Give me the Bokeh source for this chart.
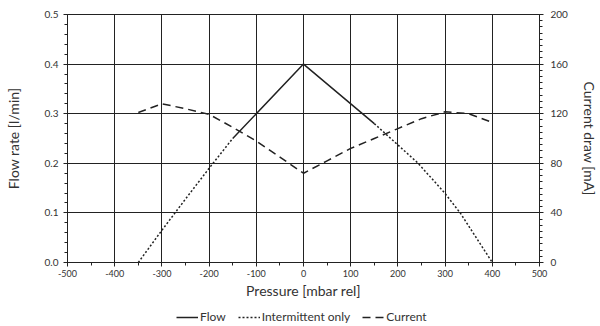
from bokeh.plotting import figure
from bokeh.layouts import column
from bokeh.models import Range1d, LinearAxis, SingleIntervalTicker, Legend, LegendItem, CustomJSTickFormatter
from bokeh.embed import file_html
from bokeh.resources import INLINE

# Flow (solid, continuous region)
flow_x = [-150, 0, 150]
flow_y = [0.25, 0.40, 0.28]
# Intermittent only (dotted)
int_left_x = [-350, -300, -250, -200, -150]
int_left_y = [0.0, 0.065, 0.128, 0.19, 0.25]
int_right_x = [150, 200, 243, 300, 332, 400]
int_right_y = [0.28, 0.237, 0.20, 0.139, 0.10, 0.0]
# Current draw (dashed, mA)
cur_x = [-350, -300, -250, -200, -150, -100, -50, 0, 50, 100, 150, 200, 250, 300, 350, 400]
cur_y = [121, 128, 124, 119.5, 109, 98, 85, 72, 82, 92, 100, 108, 116, 121.5, 120, 113]

FONT = "Lato"
DARK = "#222222"
TXT = "#333333"
SOLID = dict(line_color=DARK, line_width=1.5)
DOTTED = dict(line_color=DARK, line_width=1.5, line_dash="2 2")
DASHED = dict(line_color=DARK, line_width=1.5, line_dash="8 5")

p = figure(width=600, height=306, output_backend="svg", toolbar_location=None,
           x_range=Range1d(-500, 500), y_range=Range1d(0, 0.5),
           min_border_left=67, min_border_right=60, min_border_top=14, min_border_bottom=44)
p.extra_y_ranges = {"cur": Range1d(0, 200)}

p.outline_line_color = DARK
p.outline_line_width = 1

p.line(flow_x, flow_y, **SOLID)
p.line(int_left_x, int_left_y, **DOTTED)
p.line(int_right_x, int_right_y, **DOTTED)
p.line(cur_x, cur_y, y_range_name="cur", **DASHED)

xax = p.xaxis[0]
yax = p.yaxis[0]
xax.ticker = SingleIntervalTicker(interval=100, num_minor_ticks=2)
xax.formatter = CustomJSTickFormatter(code="return String(Math.round(tick));")
yax.ticker = SingleIntervalTicker(interval=0.1, num_minor_ticks=5)
yax.formatter = CustomJSTickFormatter(code="return tick.toFixed(1);")
xax.axis_label = "Pressure [mbar rel]"
yax.axis_label = "Flow rate [l/min]"

right = LinearAxis(y_range_name="cur", ticker=SingleIntervalTicker(interval=40, num_minor_ticks=8),
                   axis_label="Current draw [mA]")
p.add_layout(right, "right")

for ax in [xax, yax, right]:
    ax.axis_line_color = DARK
    ax.major_tick_line_color = DARK
    ax.minor_tick_line_color = DARK
    ax.major_tick_in = 0
    ax.major_tick_out = 4
    ax.minor_tick_in = 0
    ax.minor_tick_out = 3
    ax.major_label_text_font = FONT
    ax.axis_label_text_font = FONT
    ax.major_label_text_color = TXT
    ax.axis_label_text_color = TXT
    ax.axis_label_text_font_style = "normal"
    ax.axis_label_text_font_size = "14px"
    ax.major_label_text_font_size = "10px"

xax.major_label_text_font_size = "9px"
xax.major_label_standoff = 3
xax.axis_label_standoff = 2
yax.major_label_standoff = 5
yax.axis_label_standoff = 20
right.major_label_standoff = 7
right.axis_label_standoff = 10

p.xgrid.grid_line_color = DARK
p.ygrid.grid_line_color = DARK
p.xgrid.grid_line_width = 1
p.ygrid.grid_line_width = 1
p.xgrid.ticker = SingleIntervalTicker(interval=100)
p.ygrid.ticker = SingleIntervalTicker(interval=0.1)

# legend strip below the chart (its lines lie outside its visible ranges)
lg = figure(width=600, height=20, output_backend="svg", toolbar_location=None,
            x_range=Range1d(5000, 5001), y_range=Range1d(5000, 5001),
            min_border_left=0, min_border_right=0, min_border_top=0, min_border_bottom=0)
lg.axis.visible = False
lg.grid.visible = False
lg.outline_line_color = None
r1 = lg.line(flow_x, flow_y, **SOLID)
r2 = lg.line(int_left_x, int_left_y, **DOTTED)
r3 = lg.line(cur_x, cur_y, **DASHED)
legend = Legend(items=[LegendItem(label="Flow", renderers=[r1]),
                       LegendItem(label="Intermittent only", renderers=[r2]),
                       LegendItem(label="Current", renderers=[r3])],
                orientation="horizontal", location=(109, 2),
                label_text_font=FONT, label_text_font_size="12px", label_text_color=TXT,
                border_line_color=None, background_fill_alpha=0,
                glyph_width=22, glyph_height=14, spacing=12, padding=2, margin=0,
                label_standoff=2, label_height=14)
lg.add_layout(legend)

open("out.html", "w").write(file_html(column(p, lg, spacing=0), INLINE))
